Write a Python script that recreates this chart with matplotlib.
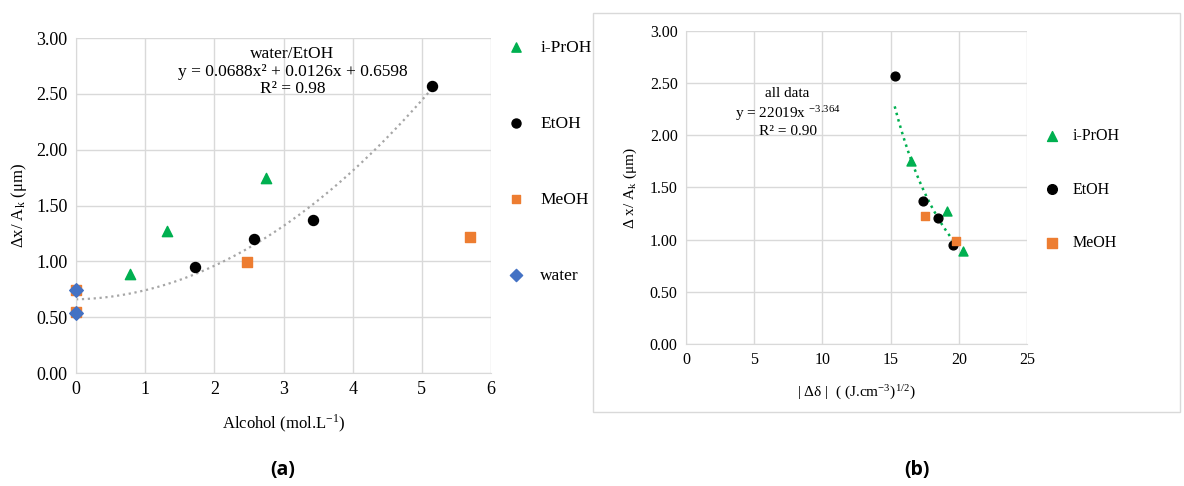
import numpy as np
import matplotlib
matplotlib.use("Agg")
import matplotlib.pyplot as plt
from matplotlib.patches import Rectangle

plt.rcParams['font.family'] = ['Liberation Serif', 'DejaVu Serif']
plt.rcParams['mathtext.fontset'] = 'stix'

# ---- panel (a): vs alcohol concentration ----
a_iproh_x = [0.78, 1.31, 2.75]
a_iproh_y = [0.89, 1.27, 1.75]
a_etoh_x = [1.72, 2.57, 3.43, 5.14]
a_etoh_y = [0.95, 1.20, 1.37, 2.57]
a_meoh_x = [0.0, 0.0, 2.47, 5.70]
a_meoh_y = [0.74, 0.55, 0.99, 1.22]
a_water_x = [0.0, 0.0]
a_water_y = [0.74, 0.54]
a_fit = [0.0688, 0.0126, 0.6598]   # quadratic, water/EtOH

# ---- panel (b): vs |delta delta| ----
b_iproh_x = [16.5, 19.15, 20.3]
b_iproh_y = [1.75, 1.27, 0.89]
b_etoh_x = [15.3, 17.4, 18.5, 19.6]
b_etoh_y = [2.57, 1.37, 1.21, 0.95]
b_meoh_x = [17.5, 19.8]
b_meoh_y = [1.23, 0.99]
b_fit = [22019, -3.364]            # power law, all data

green = '#00b050'
orange = '#ed7d31'
blue = '#4472c4'
gridc = '#d9d9d9'

fig = plt.figure(figsize=(11.84, 4.86), dpi=100)

def style_axes(ax):
    ax.grid(True, color=gridc, lw=1)
    ax.set_axisbelow(True)
    for s in ['top', 'right']:
        ax.spines[s].set_visible(False)
    for s in ['left', 'bottom']:
        ax.spines[s].set_color(gridc)
    ax.tick_params(length=0)
    ax.set_yticks(np.arange(0, 3.01, 0.5))
    ax.yaxis.set_major_formatter(matplotlib.ticker.FormatStrFormatter('%.2f'))

# panel a
ax1 = fig.add_axes([0.0642, 0.2325, 0.3505, 0.6893])
style_axes(ax1)
xf = np.linspace(0, 5.14, 200)
ax1.plot(xf, np.polyval(a_fit, xf), ls=':', color='#a6a6a6', lw=1.6)
ax1.scatter(a_iproh_x, a_iproh_y, marker='^', s=55, color=green, label='i-PrOH', zorder=3, clip_on=False)
ax1.scatter(a_etoh_x, a_etoh_y, marker='o', s=52, color='black', label='EtOH', zorder=3, clip_on=False)
ax1.scatter(a_meoh_x, a_meoh_y, marker='s', s=50, color=orange, label='MeOH', zorder=3, clip_on=False)
ax1.scatter(a_water_x, a_water_y, marker='D', s=48, color=blue, label='water', zorder=4, clip_on=False)
ax1.set_xlim(0, 6)
ax1.set_ylim(0, 3)
ax1.set_xticks(range(0, 7))
ax1.tick_params(labelsize=13, pad=6)
ax1.set_xlabel(r'Alcohol (mol.L$^{\mathregular{-1}}$)', fontsize=12, labelpad=10)
ax1.set_ylabel(r'Δx/ A$_{\mathregular{k}}$ (μm)', fontsize=12, labelpad=5)
ax1.text(3.13, 2.70, 'water/EtOH\ny = 0.0688x² + 0.0126x + 0.6598\nR² = 0.98',
         ha='center', va='center', fontsize=12.5, linespacing=1.15)
ax1.legend(loc='upper left', bbox_to_anchor=(0.408, 0.951), bbox_transform=fig.transFigure,
           frameon=False, fontsize=12.5, labelspacing=3.45, handletextpad=0.4,
           scatterpoints=1, markerscale=0.9)

# panel b
fig.patches.append(Rectangle((593 / 1184, 1 - 412 / 486), 587 / 1184, 399 / 486,
                             transform=fig.transFigure, fill=False, ec='#d9d9d9', lw=1))
ax2 = fig.add_axes([0.5794, 0.2922, 0.288, 0.644])
style_axes(ax2)
xf2 = np.linspace(15.3, 19.8, 200)
ax2.plot(xf2, b_fit[0] * xf2 ** b_fit[1], ls=':', color=green, lw=1.8)
ax2.scatter(b_iproh_x, b_iproh_y, marker='^', s=42, color=green, label='i-PrOH', zorder=3)
ax2.scatter(b_etoh_x, b_etoh_y, marker='o', s=40, color='black', label='EtOH', zorder=3)
ax2.scatter(b_meoh_x, b_meoh_y, marker='s', s=40, color=orange, label='MeOH', zorder=3)
ax2.set_xlim(0, 25)
ax2.set_ylim(0, 3)
ax2.set_xticks(range(0, 26, 5))
ax2.tick_params(labelsize=11.5, pad=6)
ax2.set_xlabel(r'| Δδ |  ( (J.cm$^{\mathregular{-3}}$)$^{\mathregular{1/2}}$)', fontsize=11, labelpad=10)
ax2.set_ylabel(r'Δ x/ A$_{\mathregular{k}}$ (μm)', fontsize=11, labelpad=8)
ax2.text(7.45, 2.22, 'all data\ny = 22019x $^{\\mathregular{- 3.364}}$\nR² = 0.90',
         ha='center', va='center', fontsize=11, linespacing=1.2)
ax2.legend(loc='upper left', bbox_to_anchor=(0.8625, 0.766), bbox_transform=fig.transFigure,
           frameon=False, fontsize=11.5, labelspacing=2.35, handletextpad=0.3,
           scatterpoints=1, markerscale=1.1)

# panel captions
fig.text(283 / 1184, 1 - 470 / 486, '(a)', ha='center', va='center', fontsize=14,
         fontweight='bold', family='Open Sans')
fig.text(917 / 1184, 1 - 470 / 486, '(b)', ha='center', va='center', fontsize=14,
         fontweight='bold', family='Open Sans')

fig.savefig('out.png', dpi=100)
